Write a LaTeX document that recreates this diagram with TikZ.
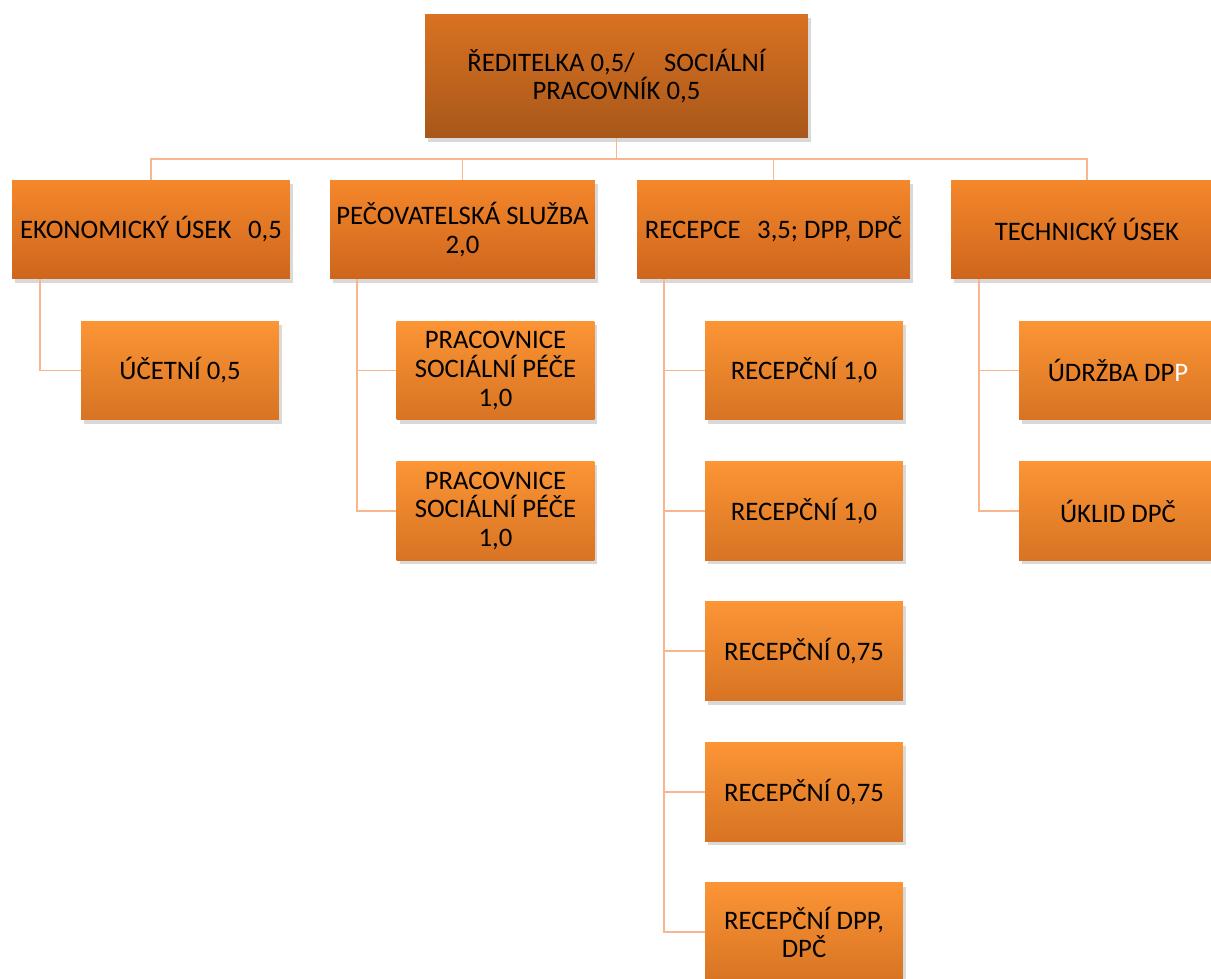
\documentclass[tikz,border=0pt]{standalone}
\usepackage{fontspec}
\setmainfont{Carlito}
\usetikzlibrary{shadows}

\definecolor{topA}{HTML}{D97221}
\definecolor{topB}{HTML}{A8571A}
\definecolor{midA}{HTML}{F5872B}
\definecolor{midB}{HTML}{CD661D}
\definecolor{lowA}{HTML}{FC9535}
\definecolor{lowB}{HTML}{D77323}
\definecolor{linkc}{HTML}{F7B68E}

\begin{document}
\begin{tikzpicture}[x=0.02cm,y=-0.02cm,node distance=2.81cm,
    box/.style={rectangle,inner sep=0pt,align=center,font=\fontsize{15.2}{16.4}\selectfont,
        drop shadow={shadow xshift=0.06cm,shadow yshift=-0.08cm,opacity=0.3}},
    head node/.style={box,minimum width=7.66cm,minimum height=2.48cm,top color=topA,bottom color=topB},
    main node/.style={box,minimum height=1.98cm,top color=midA,bottom color=midB},
    sub node/.style={box,minimum width=3.96cm,minimum height=1.98cm,top color=lowA,bottom color=lowB},
    link/.style={draw=linkc,line width=1.1pt}]
                \useasboundingbox (0,0) rectangle (1211,979);

                \coordinate (bus) at (616.5,159);

                \node[head node] (head) at (616.5,76) {ŘEDITELKA 0,5/\hspace{1.1em}SOCIÁLNÍ\\PRACOVNÍK 0,5};

                \node[main node,minimum width=5.56cm] (eko) at (151,229.5) {EKONOMICKÝ ÚSEK\hspace{0.4em} 0,5};
                \node[main node,minimum width=5.30cm] (pec) at (462.5,229.5) {PEČOVATELSKÁ SLUŽBA\\2,0};
                \node[main node,minimum width=5.46cm] (rec) at (773.5,229.5) {RECEPCE\hspace{0.4em} 3,5; DPP, DPČ};
                \node[main node,minimum width=5.44cm] (tech) at (1087,229.5) {TECHNICKÝ ÚSEK};

                \node[sub node] (uct) at (180,370.5) {ÚČETNÍ 0,5};

                \node[sub node] (prac1) at (495.5,370.5) {PRACOVNICE\\SOCIÁLNÍ PÉČE\\1,0};
                \node[sub node] (prac2) [below of=prac1] {PRACOVNICE\\SOCIÁLNÍ PÉČE\\1,0};

                \node[sub node] (rec1) at (804,370.5) {RECEPČNÍ 1,0};
                \node[sub node] (rec2) [below of=rec1] {RECEPČNÍ 1,0};
                \node[sub node] (rec3) [below of=rec2] {RECEPČNÍ 0,75};
                \node[sub node] (rec4) [below of=rec3] {RECEPČNÍ 0,75};
                \node[sub node] (rec5) [below of=rec4] {RECEPČNÍ DPP,\\DPČ};

                \node[sub node] (udr) at (1118,370.5) {ÚDRŽBA DP{\color{white}P}};
                \node[sub node] (ukl) [below of=udr] {ÚKLID DPČ};

                \path[link]
                    (head.south) -- (bus) -| (eko.north)
                    (bus) -| (pec.north)
                    (bus) -| (rec.north)
                    (bus) -| (tech.north)
                    ([xshift=0.56cm]eko.south west) |- (uct.west)
                    ([xshift=0.54cm]pec.south west) |- (prac1.west)
                    ([xshift=0.54cm]pec.south west) |- (prac2.west)
                    ([xshift=0.54cm]rec.south west) |- (rec1.west)
                    ([xshift=0.54cm]rec.south west) |- (rec2.west)
                    ([xshift=0.54cm]rec.south west) |- (rec3.west)
                    ([xshift=0.54cm]rec.south west) |- (rec4.west)
                    ([xshift=0.54cm]rec.south west) |- (rec5.west)
                    ([xshift=0.56cm]tech.south west) |- (udr.west)
                    ([xshift=0.56cm]tech.south west) |- (ukl.west)
                    ;
\end{tikzpicture}
\end{document}
